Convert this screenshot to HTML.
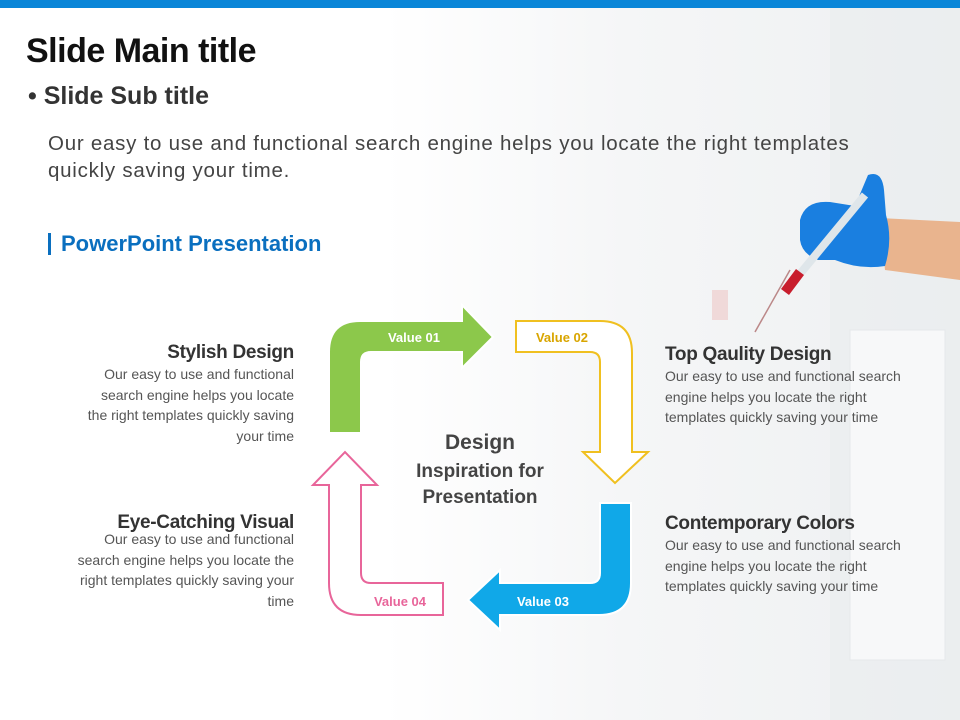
<!DOCTYPE html>
<html><head><meta charset="utf-8"><style>
*{margin:0;padding:0}
body{width:960px;height:720px;overflow:hidden;position:relative;font-family:"Liberation Sans",sans-serif;background:#fff}
.bg{position:absolute;inset:0;background:linear-gradient(90deg,#fff 0%,#fff 40%,#f5f6f7 65%,#eef0f1 100%)}
.t{position:absolute;white-space:nowrap}
.h{font-weight:bold;color:#333;font-size:19px;letter-spacing:-0.3px}
.p{color:#555;font-size:14px;line-height:20.5px}
</style></head><body>
<div class="bg"></div>
<svg class="t" style="left:0;top:0" width="960" height="720">
<rect x="830" y="0" width="130" height="720" fill="#e8ebed" opacity=".5"/>
<rect x="850" y="330" width="95" height="330" fill="#f7f8f9" stroke="#e6e8ea"/>
<rect x="712" y="290" width="16" height="30" fill="#eec7c7" opacity=".6"/>
<path d="M880 218 L960 222 L960 280 L885 270 Z" fill="#e9b48e"/>
<path d="M868 175 Q882 170 884 190 L886 215 Q893 240 885 266 Q860 270 835 260 L818 260 Q802 254 800 240 L800 220 Q805 200 830 202 L855 206 Z" fill="#1a7fe0"/>
<line x1="755" y1="332" x2="790" y2="270" stroke="#b88" stroke-width="1.5"/>
<line x1="785" y1="292" x2="865" y2="195" stroke="#dfe6ea" stroke-width="8"/>
<line x1="785" y1="292" x2="800" y2="272" stroke="#c81d2c" stroke-width="10"/>
<rect x="0" y="0" width="960" height="8" fill="#0a86d8"/>
<path d="M329 433 L329 352 Q329 321 360 321 L462 321 L462 305 L493 337 L462 368 L462 352 L371 352 Q361 352 361 362 L361 433 Z" fill="#8cc84b" stroke="#fff" stroke-width="2"/>
<path d="M516 321 L600 321 Q632 321 632 353 L632 452 L648 452 L615 483 L583 452 L600 452 L600 362 Q600 352 590 352 L516 352 Z" fill="#fff" stroke="#f0c020" stroke-width="2"/>
<path d="M631 503 L631 583 Q631 615 599 615 L500 615 L500 630 L468 600 L500 570 L500 583 L590 583 Q600 583 600 573 L600 503 Z" fill="#10a8e8" stroke="#fff" stroke-width="2"/>
<path d="M443 583 L443 615 L361 615 Q329 615 329 583 L329 485 L313 485 L345 452 L377 485 L361 485 L361 573 Q361 583 371 583 Z" fill="#fff" stroke="#e8659a" stroke-width="2"/>
<g font-family="Liberation Sans,sans-serif" font-weight="bold" font-size="13" text-anchor="middle">
<text x="414" y="342" fill="#fff">Value 01</text>
<text x="562" y="342" fill="#d9a500">Value 02</text>
<text x="543" y="606" fill="#fff">Value 03</text>
<text x="400" y="606" fill="#e8659a">Value 04</text>
</g>
<g font-family="Liberation Sans,sans-serif" font-weight="bold" fill="#444" text-anchor="middle">
<text x="480" y="449" font-size="21">Design</text>
<text x="480" y="477" font-size="19">Inspiration for</text>
<text x="480" y="503" font-size="19">Presentation</text>
</g>
<rect x="48" y="233" width="3" height="22" fill="#0a6fbf"/>
</svg>
<div class="t" style="left:26px;top:32px;font-size:34px;font-weight:bold;color:#111;letter-spacing:-0.5px">Slide Main title</div>
<div class="t" style="left:28px;top:82px;font-size:25px;font-weight:bold;color:#333">• Slide Sub title</div>
<div class="t" style="left:48px;top:130px;font-size:20.5px;letter-spacing:0.75px;color:#444;line-height:27px">Our easy to use and functional search engine helps you locate the right templates<br>quickly saving your time.</div>
<div class="t" style="left:61px;top:231px;font-size:22px;font-weight:bold;color:#0a6fbf">PowerPoint Presentation</div>
<div class="t" style="right:666px;top:342px;text-align:right"><div class="h">Stylish Design</div><div class="p">Our easy to use and functional<br>search engine helps you locate<br>the right templates quickly saving<br>your time</div></div>
<div class="t" style="right:666px;top:512px;text-align:right"><div class="h" style="line-height:22px">Eye-Catching Visual</div><div class="p" style="margin-top:-5px">Our easy to use and functional<br>search engine helps you locate the<br>right templates quickly saving your<br>time</div></div>
<div class="t" style="left:665px;top:344px"><div class="h">Top Qaulity Design</div><div class="p">Our easy to use and functional search<br>engine helps you locate the right<br>templates quickly saving your time</div></div>
<div class="t" style="left:665px;top:513px"><div class="h">Contemporary Colors</div><div class="p">Our easy to use and functional search<br>engine helps you locate the right<br>templates quickly saving your time</div></div>
</body></html>
